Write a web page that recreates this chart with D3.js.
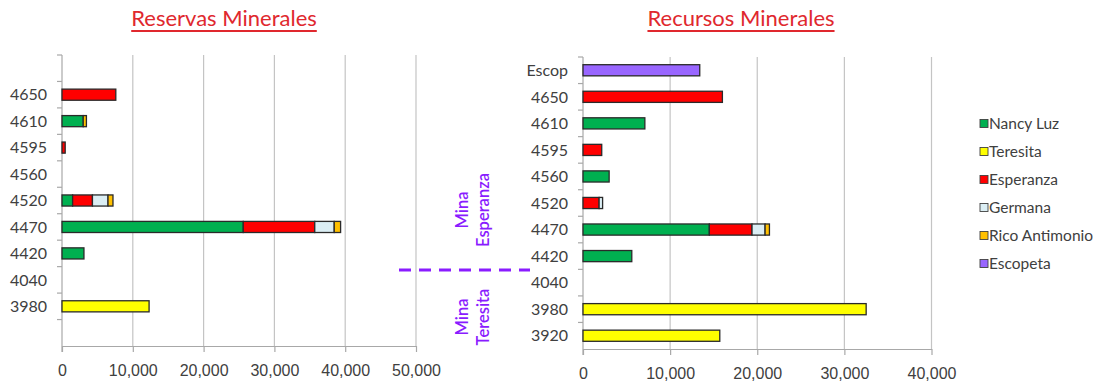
<!DOCTYPE html>
<html>
<head>
<meta charset="utf-8">
<script src="https://cdn.jsdelivr.net/npm/d3@7"></script>
<style>
  html, body { margin: 0; padding: 0; background: #fff; }
  svg { display: block; font-family: Lato, "Open Sans", sans-serif; }
</style>
</head>
<body>
<svg id="chart" width="1105" height="387"></svg>
<script>
// Mining levels, top to bottom
const categories = ["Escop", "4650", "4610", "4595", "4560", "4520", "4470", "4420", "4040", "3980", "3920"];
// Reservas panel hides the first and last level labels
const reservasLabels = ["", "4650", "4610", "4595", "4560", "4520", "4470", "4420", "4040", "3980", ""];
const recursosLabels = ["Escop", "4650", "4610", "4595", "4560", "4520", "4470", "4420", "4040", "3980", "3920"];

const seriesNames = ["Nancy Luz", "Teresita", "Esperanza", "Germana", "Rico Antimonio", "Escopeta"];
const seriesColors = ["#00b050", "#ffff00", "#ff0000", "#dbeef4", "#ffc000", "#9966ff"];

// Reservas Minerales (one value per level, same order as categories)
const resNancyLuz   = [0, 0, 3000, 0, 0, 1500, 25600, 3100, 0, 0, 0];
const resTeresita   = [0, 0, 0, 0, 0, 0, 0, 0, 0, 12300, 0];
const resEsperanza  = [0, 7600, 0, 450, 0, 2800, 10100, 0, 0, 0, 0];
const resGermana    = [0, 0, 0, 0, 0, 2200, 2750, 0, 0, 0, 0];
const resRico       = [0, 0, 450, 0, 0, 700, 900, 0, 0, 0, 0];
const resEscopeta   = [0, 0, 0, 0, 0, 0, 0, 0, 0, 0, 0];

// Recursos Minerales
const recNancyLuz   = [0, 0, 7100, 0, 3000, 0, 14500, 5600, 0, 0, 0];
const recTeresita   = [0, 0, 0, 0, 0, 0, 0, 0, 0, 32500, 15700];
const recEsperanza  = [0, 16000, 0, 2150, 0, 1850, 4900, 0, 0, 0, 0];
const recGermana    = [0, 0, 0, 0, 0, 400, 1500, 0, 0, 0, 0];
const recRico       = [0, 0, 0, 0, 0, 0, 500, 0, 0, 0, 0];
const recEscopeta   = [13400, 0, 0, 0, 0, 0, 0, 0, 0, 0, 0];

const reservasTicks = [0, 10000, 20000, 30000, 40000, 50000];
const recursosTicks = [0, 10000, 20000, 30000, 40000];

const svg = d3.select("#chart");
const fmt = d3.format(",");
const gridColor = "#c4c4c4";
const axisColor = "#a8a8a8";
const labelColor = "#404040";

function buildRows(series) {
  return categories.map((c, i) => {
    const row = { level: c };
    seriesNames.forEach((s, k) => { row[s] = series[k][i]; });
    return row;
  });
}

function drawPanel(opt) {
  const g = svg.append("g");
  const x = d3.scaleLinear().domain([0, opt.max]).range([opt.left, opt.right]);
  const y = d3.scaleBand().domain(categories).range([opt.top, opt.bottom]).paddingInner(0).paddingOuter(0);

  // vertical gridlines
  g.selectAll("line.grid").data(opt.ticks.filter(t => t > 0)).join("line")
    .attr("x1", d => x(d)).attr("x2", d => x(d))
    .attr("y1", opt.top).attr("y2", opt.bottom)
    .attr("stroke", gridColor).attr("stroke-width", 1.2);

  // x axis
  const xAxis = d3.axisBottom(x).tickValues(opt.ticks).tickFormat(fmt).tickSize(6).tickSizeOuter(0);
  const xg = g.append("g").attr("transform", `translate(0,${opt.bottom})`).call(xAxis);
  xg.select(".domain").attr("stroke", axisColor).attr("stroke-width", 1.2);
  xg.selectAll(".tick line").attr("stroke", axisColor).attr("stroke-width", 1.2);
  xg.selectAll(".tick text").attr("fill", labelColor).attr("font-size", 16).attr("dy", "1.3em");

  // y axis line and boundary ticks between levels
  g.append("line").attr("x1", opt.left).attr("x2", opt.left)
    .attr("y1", opt.top).attr("y2", opt.bottom + 6)
    .attr("stroke", axisColor).attr("stroke-width", 1.2);
  const bounds = categories.map(c => y(c));
  g.selectAll("line.ytick").data(bounds).join("line")
    .attr("x1", opt.left - 5).attr("x2", opt.left)
    .attr("y1", d => d).attr("y2", d => d)
    .attr("stroke", axisColor).attr("stroke-width", 1.2);

  // level labels
  g.selectAll("text.ylab").data(categories).join("text")
    .attr("x", opt.left - 15)
    .attr("y", d => y(d) + y.bandwidth() / 2)
    .attr("dy", "0.36em")
    .attr("text-anchor", "end")
    .attr("font-size", 16)
    .attr("fill", labelColor)
    .text((d, i) => opt.labels[i]);

  // stacked bars
  const rows = buildRows(opt.series);
  const stacked = d3.stack().keys(seriesNames)(rows);
  const barH = y.bandwidth() * 0.42;
  stacked.forEach((layer, k) => {
    g.append("g").selectAll("rect")
      .data(layer.filter(d => d[1] - d[0] > 0))
      .join("rect")
      .attr("x", d => x(d[0]))
      .attr("width", d => x(d[1]) - x(d[0]))
      .attr("y", d => y(d.data.level) + (y.bandwidth() - barH) / 2)
      .attr("height", barH)
      .attr("fill", seriesColors[k])
      .attr("stroke", "#2a2a2a")
      .attr("stroke-width", 1.3);
  });

  // title
  const title = g.append("text")
    .attr("x", opt.titleX).attr("y", 26)
    .attr("text-anchor", "middle")
    .attr("font-size", 22)
    .attr("fill", "#e0282e")
    .text(opt.title);
  const w = title.node().getComputedTextLength();
  g.append("line")
    .attr("x1", opt.titleX - w / 2).attr("x2", opt.titleX + w / 2)
    .attr("y1", 31).attr("y2", 31)
    .attr("stroke", "#e0282e").attr("stroke-width", 1.8);
}

drawPanel({
  title: "Reservas Minerales", titleX: 224,
  left: 62, right: 416, top: 55, bottom: 346, max: 50000,
  ticks: reservasTicks, labels: reservasLabels,
  series: [resNancyLuz, resTeresita, resEsperanza, resGermana, resRico, resEscopeta]
});

drawPanel({
  title: "Recursos Minerales", titleX: 741,
  left: 583, right: 931.5, top: 57, bottom: 349, max: 40000,
  ticks: recursosTicks, labels: recursosLabels,
  series: [recNancyLuz, recTeresita, recEsperanza, recGermana, recRico, recEscopeta]
});

// mine separators
const mineColor = "#8a1cff";
svg.append("line")
  .attr("x1", 399).attr("x2", 530).attr("y1", 270).attr("y2", 270)
  .attr("stroke", mineColor).attr("stroke-width", 3)
  .attr("stroke-dasharray", "12,8");

function mineLabel(cx, cy, lines) {
  const t = svg.append("text")
    .attr("transform", `translate(${cx},${cy}) rotate(-90)`)
    .attr("text-anchor", "middle")
    .attr("font-size", 16.5)
    .attr("font-weight", 600)
    .attr("fill", mineColor);
  lines.forEach((l, i) => {
    t.append("tspan").attr("x", 0).attr("dy", i === 0 ? 0 : 21).text(l);
  });
}
mineLabel(468, 210, ["Mina", "Esperanza"]);
mineLabel(468, 317, ["Mina", "Teresita"]);

// legend
const legend = svg.append("g");
seriesNames.forEach((s, i) => {
  const cy = 123.5 + i * 28;
  legend.append("rect")
    .attr("x", 980).attr("y", cy - 4).attr("width", 8).attr("height", 8)
    .attr("fill", seriesColors[i]).attr("stroke", "#404040").attr("stroke-width", 0.9);
  legend.append("text")
    .attr("x", 989).attr("y", cy).attr("dy", "0.36em")
    .attr("font-size", 15.5).attr("fill", labelColor)
    .text(s);
});
</script>
</body>
</html>
